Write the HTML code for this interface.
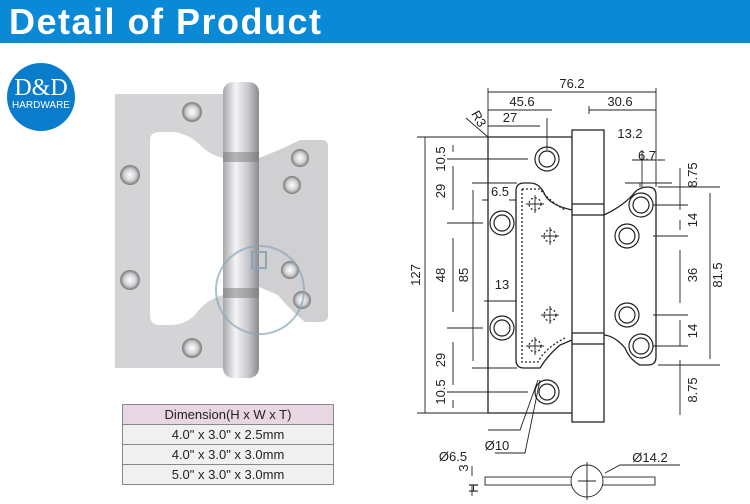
<!DOCTYPE html>
<html><head><meta charset="utf-8"><style>
body{margin:0;width:750px;height:504px;background:#fff;overflow:hidden;font-family:"Liberation Sans",sans-serif;position:relative}
.hdr{position:absolute;left:0;top:0;width:750px;height:43px;background:#0a8ad6}
.hdr span{position:absolute;left:9px;top:1px;color:#fff;font-weight:bold;font-size:36px;letter-spacing:1.5px}
.logo{position:absolute;left:7px;top:63px;width:68px;height:68px;border-radius:50%;background:#0a7ccc;color:#fff;text-align:center}
.logo .a{font-family:"Liberation Serif",serif;font-size:24px;margin-top:13px;line-height:24px}
.logo .b{font-size:10px;line-height:12px}
table{position:absolute;left:122px;top:404px;width:212px;border-collapse:collapse;font-size:13px;color:#222}
td{border:1.5px solid #888;height:19px;text-align:center;background:#f0f0f0;padding:0}
tr:first-child td{background:#e8d6e2}
</style></head><body>
<div class="hdr"><span>Detail of Product</span></div>
<div class="logo"><div class="a">D&amp;D</div><div class="b">HARDWARE</div></div>
<svg width="750" height="504" style="position:absolute;left:0;top:0" font-family="Liberation Sans, sans-serif">
<defs><linearGradient id="pin" x1="0" x2="1"><stop offset="0" stop-color="#a8a8ac"/><stop offset=".35" stop-color="#f4f4f6"/><stop offset=".7" stop-color="#c8c8cc"/><stop offset="1" stop-color="#8a8a90"/></linearGradient>
<radialGradient id="hole"><stop offset="0" stop-color="#fff"/><stop offset=".6" stop-color="#d0d0d4"/><stop offset="1" stop-color="#777"/></radialGradient>
<g id="h" fill="none" stroke="#222" stroke-width="1.2"><circle r="12"/><circle r="8"/></g></defs>
<!-- photo -->
<path d="M115 94 H223 V368 H115 Z M150 140 Q150 132 160 132 H175 Q190 135 200 145 Q210 155 223 158 V295 Q205 300 195 315 Q185 325 170 325 H160 Q150 325 150 315 Z" fill="#d4d4d6" fill-rule="evenodd"/>
<path d="M259 158 Q280 150 300 140 H322 Q328 140 328 146 V316 Q328 322 320 322 H305 Q290 310 278 295 L259 287 Z" fill="#d0d0d2"/>
<rect x="223" y="82" width="36" height="296" rx="10" fill="url(#pin)"/>
<rect x="223" y="152" width="36" height="10" fill="#777" opacity=".5"/>
<rect x="223" y="288" width="36" height="10" fill="#777" opacity=".5"/>
<g fill="url(#hole)"><circle cx="192" cy="112" r="10"/><circle cx="130" cy="175" r="10"/><circle cx="130" cy="280" r="10"/><circle cx="192" cy="348" r="10"/><circle cx="300" cy="158" r="9"/><circle cx="292" cy="185" r="9"/><circle cx="290" cy="270" r="9"/><circle cx="302" cy="300" r="9"/></g>
<circle cx="260" cy="290" r="44" fill="none" stroke="#8aa6b8" stroke-width="2" opacity=".7"/>
<rect x="252" y="252" width="14" height="16" fill="none" stroke="#8aa6b8" stroke-width="2"/>
<!-- drawing -->
<g stroke="#222" stroke-width="1.3" fill="none">
<path d="M488 137 H572 M488 137 V413 H572"/>
<rect x="572" y="130" width="32" height="292"/>
<line x1="572" y1="204" x2="604" y2="204"/><line x1="572" y1="215" x2="604" y2="215"/>
<line x1="572" y1="333" x2="604" y2="333"/><line x1="572" y1="344" x2="604" y2="344"/>
<path d="M572 210 Q550 205 545 195 Q540 183 530 183 H524 Q516 183 516 191 V360 Q516 368 524 368 H540 Q548 355 560 345 L572 340"/>
<path d="M604 215 Q625 205 635 192 Q640 187 648 187 Q656 187 656 195 V357 Q656 365 648 365 H640 Q630 360 625 348 Q615 336 604 335"/>
<path d="M522 189 V362 H538 Q545 348 565 338 M522 189 H540 Q548 200 565 210" stroke-dasharray="2,2"/>
</g>
<use href="#h" x="547" y="159"/><use href="#h" x="502" y="223"/><use href="#h" x="502" y="328"/><use href="#h" x="547" y="392"/>
<use href="#h" x="641" y="205"/><use href="#h" x="627" y="236"/><use href="#h" x="627" y="315"/><use href="#h" x="641" y="346"/>
<g fill="none" stroke="#222" stroke-width="1.2" stroke-dasharray="2,2"><circle cx="535" cy="204" r="6"/><circle cx="550" cy="236" r="6"/><circle cx="550" cy="315" r="6"/><circle cx="535" cy="346" r="6"/></g>
<g stroke="#222" stroke-width=".9" fill="none">
<path d="M535 195 V213 M526 204 H544 M550 227 V245 M541 236 H559 M550 306 V324 M541 315 H559 M535 337 V355 M526 346 H544"/>
<path d="M488 88 V137 M656 88 V187 M488 92 H656 M488 110 H552 M589 110 H656 M589 106 V114 M488 126 H540 M547 118 V150 M475 137 H488 M466 118 L488 137"/>
<path d="M425 137 V413 M417 137 H488 M417 413 H572 M453 145 V152 M453 166 V210 M453 238 V312 M453 342 V385 M453 400 V408 M447 159 H528 M447 223 H483 M447 328 H483 M447 392 H528"/>
<path d="M473 190 V361 M472 183 H517 M472 368 H517 M482 200 H488 M509 200 H516 M484 301 H516"/>
<path d="M642 150 V187 M632 160 H656 M640 183 V187 M625 183 H672 M657 160 H665 M680 168 V210 M680 220 V230 M680 250 V303 M680 320 V346 M680 360 V415 M653 205 H688 M653 236 H688 M653 315 H688 M653 346 H688 M658 365 H720 M658 187 H720 M710 193 V359"/>
<path d="M538 380 L520 430 H488 M540 380 L525 453 H495 M605 473 L620 465 H680"/>
<rect x="485" y="477" width="170" height="8"/><circle cx="587" cy="481" r="16" fill="#fff"/>
<path d="M587 462 V500 M578 481 H596 M472 466 V476 M472 486 V496"/>
</g>
<g font-size="13" fill="#222" text-anchor="middle">
<text x="572" y="88">76.2</text><text x="522" y="106">45.6</text><text x="620" y="106">30.6</text><text x="510" y="122">27</text>
<text x="630" y="138">13.2</text><text x="647" y="160">6.7</text><text x="500" y="196">6.5</text><text x="502" y="289">13</text>
<text x="453" y="461">Ø6.5</text><text x="497" y="450">Ø10</text><text x="650" y="462">Ø14.2</text>
<text x="475" y="121" transform="rotate(60 475 121)">R3</text>
<g transform="rotate(-90)">
<text x="-159" y="445">10.5</text><text x="-191" y="445">29</text><text x="-275" y="445">48</text><text x="-360" y="445">29</text><text x="-392" y="445">10.5</text>
<text x="-275" y="420">127</text><text x="-275" y="468">85</text>
<text x="-175" y="697">8.75</text><text x="-220" y="697">14</text><text x="-275" y="697">36</text><text x="-331" y="697">14</text><text x="-390" y="697">8.75</text>
<text x="-275" y="722">81.5</text><text x="-468" y="468">3</text><text x="-488" y="478">H</text>
</g></g>
</svg>
<table><tr><td>Dimension(H x W x T)</td></tr><tr><td>4.0" x 3.0" x 2.5mm</td></tr><tr><td>4.0" x 3.0" x 3.0mm</td></tr><tr><td>5.0" x 3.0" x 3.0mm</td></tr></table>
</body></html>
